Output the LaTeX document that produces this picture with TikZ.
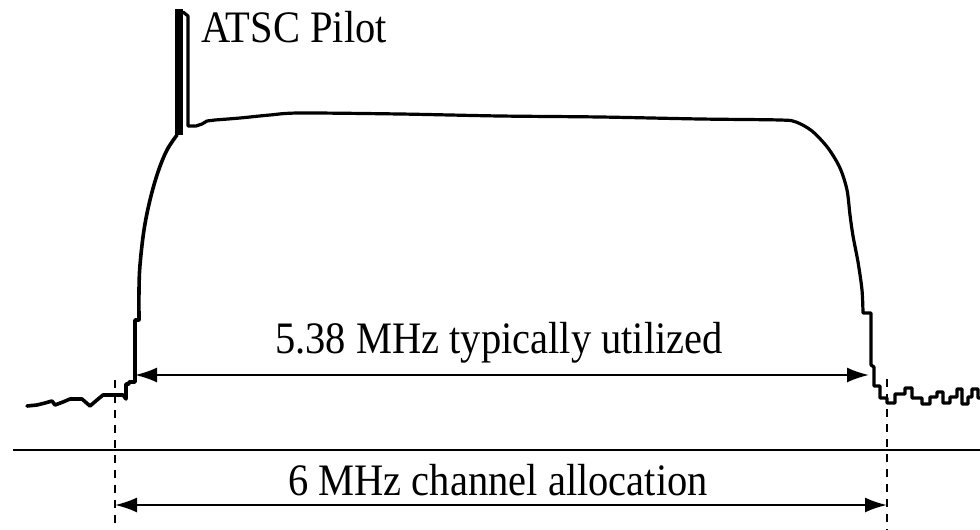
\documentclass[tikz,border=0pt]{standalone}
\usepackage{fontspec}
\setmainfont{Liberation Serif}[FakeStretch=0.9]
\usetikzlibrary{arrows.meta}
\tikzset{
  spectrum/.style={line width=3.6pt, line join=round, line cap=round},
  dimarrow/.style={line width=2.2pt, {Latex[length=22pt,width=15pt]}-{Latex[length=22pt,width=15pt]}},
  guide/.style={line width=2.2pt, dash pattern=on 8pt off 7pt},
  baseline/.style={line width=2.4pt},
  label/.style={inner sep=0pt, anchor=base, font=\fontsize{45}{50}\selectfont}
}
\begin{document}
\begin{tikzpicture}[x=1pt,y=-1pt]
\useasboundingbox (0,0) rectangle (980,530);
% named points
\coordinate (nl) at (27,406);
\coordinate (u1) at (135,375);
\coordinate (u2) at (869,375);
\coordinate (l1) at (115,505);
\coordinate (l2) at (887,505);
\coordinate (dlt) at (115,380);
\coordinate (dlb) at (115,530);
\coordinate (drt) at (887,379);
\coordinate (drb) at (887,530);
\coordinate (hl) at (13,450);
\coordinate (hr) at (980,450);
% spectrum
\draw[spectrum] (nl) -- (37,405) -- (45,403) -- (52,401) -- (55,405) -- (63,402) -- (70,399) -- (82,399) -- (90,406) -- (97,400) -- (103,395) -- (123,395) -- (126,399) -- (126,384) -- (129,384) -- (129,382) -- (135,382) -- (135,320) -- (139,320)
  -- plot[smooth, tension=0.6] coordinates {(139,320) (139,290) (140,265) (144,230) (150,200) (158,172) (167,150) (177,135)};
\fill (175,9) rectangle (183,135);
\draw[spectrum, line width=3.2pt] (183,12) -- (188,16) -- (188,126) -- (196,126) -- (202,124) -- (207,121) -- (215,120)
  -- plot[smooth, tension=0.5] coordinates {(215,120) (240,118) (270,115) (300,113) (400,114) (500,116) (600,117) (700,119) (780,120) (796,122) (812,131) (828,148) (840,168) (847,190) (850,215) (853,236) (858,262) (862,290) (863,313)}
  -- (871,313) -- (871,365) -- (874,367) -- (874,386) -- (880,386) -- (880,398) -- (887,398) -- (887,403) -- (895,403) -- (895,394) -- (905,394) -- (905,388) -- (912,388) -- (912,398) -- (922,398) -- (922,404) -- (930,404) -- (930,397) -- (937,397) -- (937,392) -- (943,392) -- (943,403) -- (950,403) -- (950,397) -- (957,397) -- (957,389) -- (962,389) -- (962,404) -- (968,404) -- (968,397) -- (972,397) -- (972,389) -- (978,389) -- (978,398) -- (980,398);
% guides and arrows
\draw[baseline] (hl) -- (hr);
\draw[guide] (dlt) -- (dlb);
\draw[guide] (drt) -- (drb);
\draw[dimarrow] (u1) -- (u2);
\draw[dimarrow] (l1) -- (l2);
% labels
\node[label] (used) at (499,353) {5.38 MHz typically utilized};
\node[label] (alloc) at (498,495) {6 MHz channel allocation};
\node[label, anchor=base west] (pilot) at (201,42) {ATSC Pilot};
\end{tikzpicture}
\end{document}
